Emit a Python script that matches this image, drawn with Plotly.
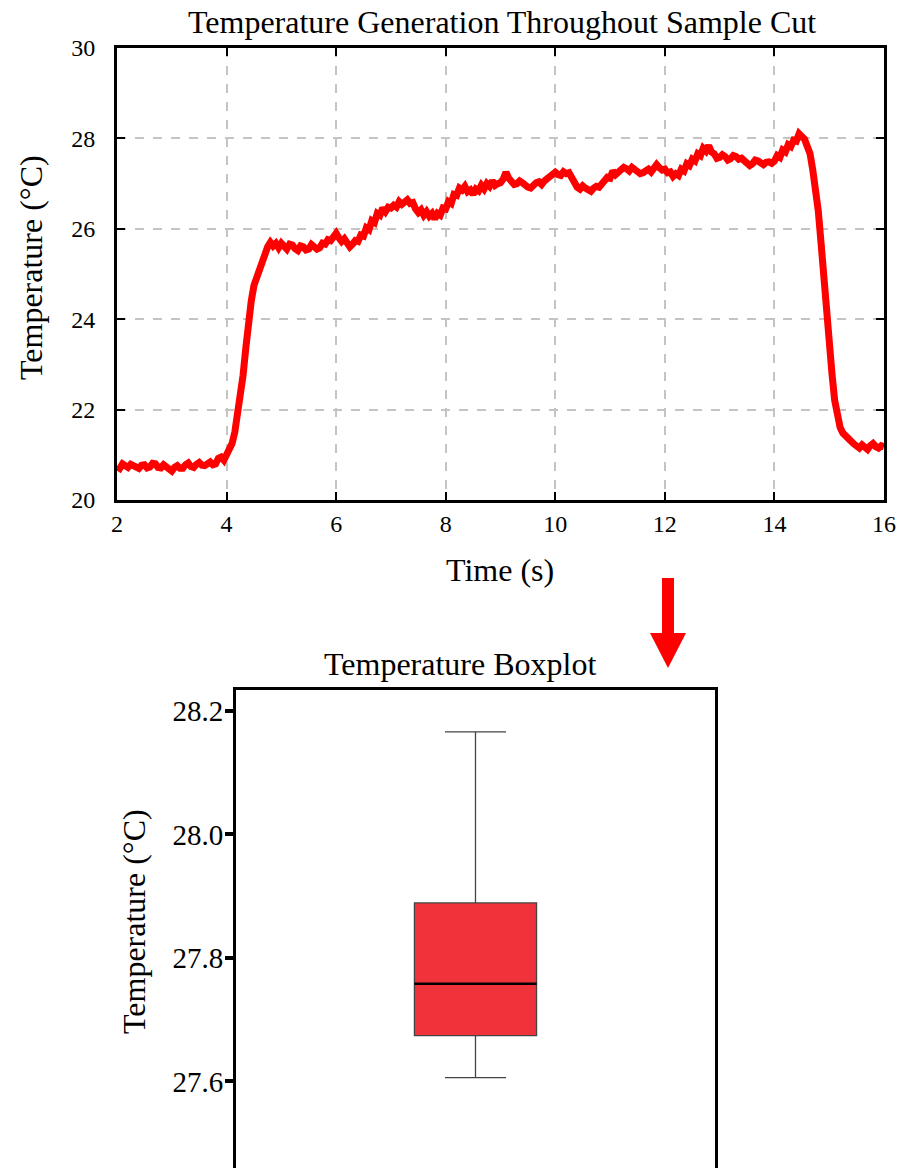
import plotly.graph_objects as go

# ---------------- data ----------------
time_s = [round(2.0 + 0.05 * i, 2) for i in range(281)]
temperature_c = [
    # 2.00 - 2.95
    20.74, 20.70, 20.80, 20.74, 20.72, 20.79, 20.76, 20.69, 20.70, 20.77,
    20.78, 20.71, 20.73, 20.81, 20.80, 20.72, 20.71, 20.78, 20.74, 20.68,
    # 3.00 - 3.95
    20.64, 20.72, 20.76, 20.70, 20.70, 20.78, 20.82, 20.74, 20.72, 20.79,
    20.83, 20.77, 20.76, 20.80, 20.84, 20.78, 20.80, 20.92, 20.95, 20.88,
    # 4.00 - 4.95
    20.98, 21.08, 21.25, 21.50, 21.85, 22.25, 22.75, 23.35, 23.95, 24.40,
    24.75, 24.92, 25.10, 25.24, 25.48, 25.60, 25.70, 25.62, 25.68, 25.58,
    # 5.00 - 5.95
    25.68, 25.60, 25.55, 25.66, 25.64, 25.56, 25.52, 25.62, 25.60, 25.53,
    25.55, 25.65, 25.62, 25.55, 25.58, 25.68, 25.66, 25.76, 25.74, 25.86,
    # 6.00 - 6.95
    25.90, 25.80, 25.72, 25.78, 25.70, 25.60, 25.66, 25.74, 25.72, 25.86,
    25.84, 26.02, 25.98, 26.18, 26.14, 26.34, 26.30, 26.46, 26.38, 26.48,
    # 7.00 - 7.95
    26.46, 26.52, 26.48, 26.60, 26.54, 26.58, 26.64, 26.56, 26.58, 26.44,
    26.36, 26.42, 26.30, 26.38, 26.28, 26.34, 26.22, 26.34, 26.30, 26.46,
    # 8.00 - 8.95
    26.44, 26.60, 26.56, 26.76, 26.74, 26.90, 26.86, 26.94, 26.82, 26.86,
    26.76, 26.88, 26.84, 26.96, 26.88, 27.00, 26.94, 27.06, 26.96, 27.00,
    # 9.00 - 9.95
    27.02, 27.10, 27.25, 27.12, 27.05, 26.98, 27.00, 27.06, 27.02, 26.96,
    26.92, 26.90, 26.98, 27.02, 27.04, 26.98, 27.06, 27.12, 27.15, 27.20,
    # 10.00 - 10.95
    27.25, 27.20, 27.18, 27.26, 27.22, 27.24, 27.12, 27.00, 26.92, 26.88,
    26.95, 26.90, 26.86, 26.83, 26.90, 26.94, 26.92, 27.00, 27.04, 27.14,
    # 11.00 - 11.95
    27.12, 27.28, 27.20, 27.26, 27.30, 27.36, 27.33, 27.28, 27.36, 27.32,
    27.28, 27.22, 27.24, 27.30, 27.32, 27.26, 27.38, 27.42, 27.35, 27.30,
    # 12.00 - 12.95
    27.32, 27.24, 27.26, 27.16, 27.22, 27.18, 27.32, 27.28, 27.44, 27.40,
    27.54, 27.50, 27.66, 27.62, 27.78, 27.72, 27.84, 27.70, 27.66, 27.56,
    # 13.00 - 13.95
    27.58, 27.64, 27.60, 27.52, 27.55, 27.62, 27.60, 27.54, 27.56, 27.52,
    27.48, 27.40, 27.44, 27.52, 27.50, 27.44, 27.42, 27.47, 27.48, 27.45,
    # 14.00 - 14.95
    27.50, 27.62, 27.58, 27.74, 27.70, 27.86, 27.82, 27.96, 27.94, 28.10,
    28.02, 27.98, 27.82, 27.66, 27.30, 26.90, 26.40, 25.70, 24.90, 24.00,
    # 15.00 - 15.95
    23.35, 22.80, 22.20, 21.85, 21.60, 21.48, 21.40, 21.34, 21.30, 21.24,
    21.18, 21.15, 21.22, 21.16, 21.12, 21.20, 21.25, 21.18, 21.15, 21.20,
    # 16.00
    21.18,
]

box_q1 = 27.674
box_median = 27.758
box_q3 = 27.889
box_lower = 27.606
box_upper = 28.166

top_x_ticks = [2, 4, 6, 8, 10, 12, 14, 16]
top_y_ticks = [20, 22, 24, 26, 28, 30]
box_y_ticks = [27.6, 27.8, 28.0, 28.2]

# ---------------- layout helpers ----------------
W, H = 898, 1168
FONT = "Liberation Serif"


def px(x):
    return x / W


def py(y):
    return 1 - y / H


fig = go.Figure()

fig.add_trace(go.Scatter(
    x=time_s, y=temperature_c, mode="lines",
    line=dict(color="#ff0000", width=7), xaxis="x", yaxis="y",
    showlegend=False,
))

box_width = 0.255
fig.add_trace(go.Box(
    x=[0], q1=[box_q1], median=[box_median], q3=[box_q3],
    lowerfence=[box_lower], upperfence=[box_upper],
    width=box_width, whiskerwidth=0.5,
    fillcolor="#f0333a", line=dict(color="#444444", width=1.3),
    xaxis="x2", yaxis="y2", showlegend=False, boxpoints=False,
))

fig.update_layout(
    width=W, height=H, autosize=False,
    margin=dict(l=0, r=0, t=0, b=0, pad=0, autoexpand=False),
    paper_bgcolor="white", plot_bgcolor="white",
    font=dict(family=FONT, color="black"),
    xaxis=dict(
        domain=[px(117), px(884)], range=[2, 16], anchor="y", automargin=False,
        tickvals=top_x_ticks, ticks="inside", ticklen=8, tickwidth=1.5,
        tickcolor="black", showline=True, linewidth=3, linecolor="black",
        mirror="ticks", showgrid=True, gridcolor="#c4c4c4", gridwidth=2,
        griddash="dash", zeroline=False, tickfont=dict(size=24, family=FONT),
    ),
    yaxis=dict(
        domain=[py(500), py(48)], range=[20, 30], anchor="x", automargin=False,
        tickvals=top_y_ticks, ticks="inside", ticklen=8, tickwidth=1.5,
        tickcolor="black", showline=True, linewidth=3, linecolor="black",
        mirror="ticks", showgrid=True, gridcolor="#c4c4c4", gridwidth=2,
        griddash="dash", zeroline=False, tickfont=dict(size=24, family=FONT),
        ticklabelstandoff=14,
    ),
    xaxis2=dict(
        domain=[px(236), px(715)], range=[-0.5, 0.5], anchor="y2", automargin=False,
        side="top", showline=True, linewidth=3, linecolor="black",
        showticklabels=False, ticks="", showgrid=False, zeroline=False,
    ),
    yaxis2=dict(
        domain=[0, py(690)], range=[27.4597, 28.2339], anchor="x2", automargin=False,
        tickvals=box_y_ticks, tickformat=".1f", ticks="outside", ticklen=8,
        tickwidth=4, tickcolor="black", showline=True, linewidth=3,
        linecolor="black", mirror=True, showgrid=False, zeroline=False,
        tickfont=dict(size=29, family=FONT), ticklabelstandoff=-4,
    ),
)

# median line drawn in black over the box
fig.add_shape(type="line", xref="x2", yref="y2",
              x0=-box_width / 2, x1=box_width / 2, y0=box_median, y1=box_median,
              line=dict(color="black", width=2.5))

# arrow between panels
arrow = [(662, 578), (674, 578), (674, 633), (686, 633), (668, 668), (650, 633), (662, 633)]
path = "M " + " L ".join(f"{px(a):.5f},{py(b):.5f}" for a, b in arrow) + " Z"
fig.add_shape(type="path", xref="paper", yref="paper", path=path,
              fillcolor="#ff0000", line=dict(width=0))


# titles
def ann(text, x, y, size, angle=0):
    fig.add_annotation(text=text, x=px(x), y=py(y), xref="paper", yref="paper",
                       showarrow=False, textangle=angle,
                       font=dict(size=size, family=FONT, color="black"),
                       xanchor="center", yanchor="middle")


ann("Temperature Generation Throughout Sample Cut", 502, 22, 32)
ann("Time (s)", 500, 570, 32)
ann("Temperature (°C)", 31, 268, 32, -90)
ann("Temperature Boxplot", 460, 664, 32)
ann("Temperature (°C)", 134, 922, 32, -90)

fig.write_html("out.html")
